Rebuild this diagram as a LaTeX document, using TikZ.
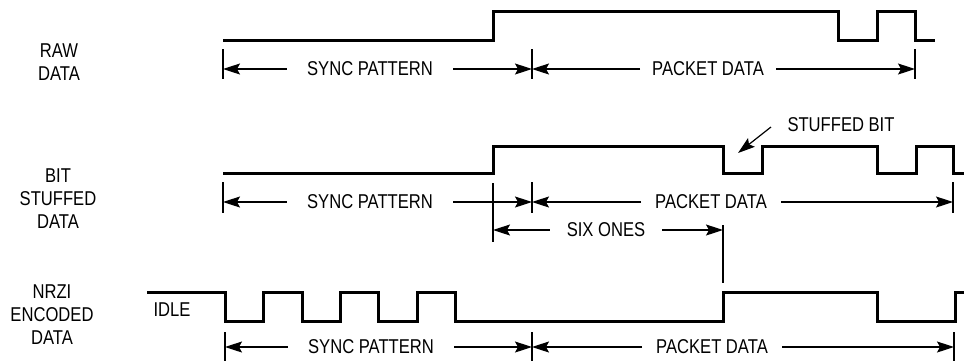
\documentclass[tikz,border=0pt]{standalone}
\usepackage{fontspec}
\setmainfont[FakeStretch=0.83]{Liberation Sans}
\usetikzlibrary{arrows.meta}

\begin{document}
\begin{tikzpicture}[
  x=1pt, y=-1pt,
  font=\fontsize{20}{23}\selectfont,
  wave/.style={line width=3pt},
  dim/.style={line width=1.2pt, -{Stealth[length=17pt, width=11pt, inset=3pt]}},
  tick/.style={line width=1.2pt},
  lbl/.style={align=center, inner sep=0pt},
  dimtext/.style={inner ysep=0pt, inner xsep=#1},
  dimtext/.default=18pt,
]
  \useasboundingbox (0,0) rectangle (964,360);

  \node[lbl] (raw)   at (59,62)  {RAW\\DATA};
  \node[lbl] (bits)  at (58,199) {BIT\\STUFFED\\DATA};
  \node[lbl] (nrzi)  at (52,315) {NRZI\\ENCODED\\DATA};
  \node[lbl] (idle)  at (172,310) {IDLE};

  \draw[wave] (223,40) -- (493,40) -- (493,11) -- (838,11) -- (838,40) -- (877,40)
    -- (877,11) -- (915,11) -- (915,40) -- (935,40);
  \draw[wave] (223,173) -- (493,173) -- (493,146) -- (723,146) -- (723,173) -- (762,173)
    -- (762,146) -- (877,146) -- (877,173) -- (916,173) -- (916,146) -- (953,146)
    -- (953,173) -- (966,173);
  \draw[wave] (147,292) -- (225,292) -- (225,321) -- (263,321) -- (263,292) -- (302,292)
    -- (302,321) -- (340,321) -- (340,292) -- (378,292) -- (378,321) -- (417,321)
    -- (417,292) -- (455,292) -- (455,321) -- (723,321) -- (723,292) -- (877,292)
    -- (877,321) -- (955,321) -- (955,292) -- (966,292);

  \coordinate (a0) at (223,69);
  \coordinate (a1) at (532,69);
  \coordinate (a2) at (915,69);
  \node[dimtext=20pt] (syncA) at (370,69) {SYNC PATTERN};
  \node[dimtext=12pt] (pktA)  at (708,69) {PACKET DATA};
  \draw[dim] (syncA) -- (a0);
  \draw[dim] (syncA) -- (a1);
  \draw[dim] (pktA) -- (a1);
  \draw[dim] (pktA) -- (a2);
  \foreach \t in {a0,a1,a2}
    \draw[tick] (\t) ++(0,-20) -- ++(0,30);

  \coordinate (b0) at (223,202);
  \coordinate (b1) at (532,202);
  \coordinate (b2) at (953,202);
  \node[dimtext=20pt] (syncB) at (370,202) {SYNC PATTERN};
  \node[dimtext=14pt] (pktB)  at (711,202) {PACKET DATA};
  \draw[dim] (syncB) -- (b0);
  \draw[dim] (syncB) -- (b1);
  \draw[dim] (pktB) -- (b1);
  \draw[dim] (pktB) -- (b2);
  \foreach \t in {b0,b1,b2}
    \draw[tick] (\t) ++(0,-20) -- ++(0,31);

  \coordinate (s0) at (493,230);
  \coordinate (s1) at (723,230);
  \node[dimtext=17pt] (six) at (606,230) {SIX ONES};
  \draw[dim] (six) -- (s0);
  \draw[dim] (six) -- (s1);
  \draw[tick] (s0) ++(0,-47) -- ++(0,59);
  \draw[tick] (s1) ++(0,-5) -- ++(0,58);

  \node (stuffed) at (841,125) {STUFFED BIT};
  \coordinate (sbtip) at (738,153);
  \draw[dim] ([xshift=-13pt, yshift=-2pt]stuffed.west) -- (sbtip);

  \coordinate (c0) at (225,347);
  \coordinate (c1) at (532,347);
  \coordinate (c2) at (954,347);
  \node[dimtext=20pt] (syncC) at (371,347) {SYNC PATTERN};
  \node[dimtext=14pt] (pktC)  at (712,347) {PACKET DATA};
  \draw[dim] (syncC) -- (c0);
  \draw[dim] (syncC) -- (c1);
  \draw[dim] (pktC) -- (c1);
  \draw[dim] (pktC) -- (c2);
  \foreach \t in {c0,c1,c2}
    \draw[tick] (\t) ++(0,-15) -- ++(0,30);
\end{tikzpicture}
\end{document}
